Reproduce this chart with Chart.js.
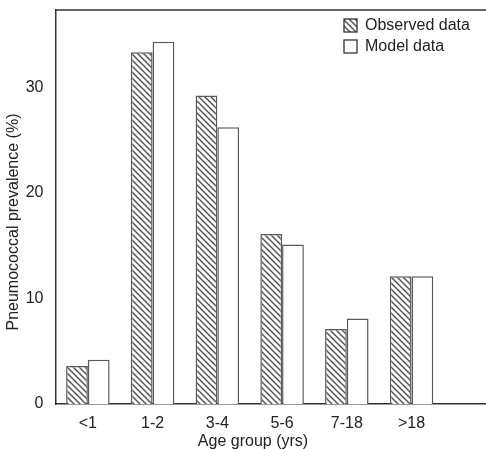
<!DOCTYPE html>
<html lang="en">
<head>
    <meta charset="UTF-8">
    <title>Pneumococcal prevalence by age group</title>
    <style>
        html, body {
            margin: 0;
            padding: 0;
            background: #ffffff;
            overflow: hidden;
        }
        #wrap {
            position: relative;
            width: 486px;
            height: 449px;
            overflow: hidden;
        }
        #wrap canvas {
            position: absolute;
            left: 0;
            top: 0;
        }
    </style>
</head>
<body>
    <div id="wrap">
        <canvas id="chart" width="486" height="455"></canvas>
    </div>
    <script src="https://cdn.jsdelivr.net/npm/chart.js"></script>
    <script>
        // data
        const ageGroups = ['<1', '1-2', '3-4', '5-6', '7-18', '>18'];
        const observedData = [3.6, 33.3, 29.2, 16.1, 7.1, 12.1];
        const modelData = [4.2, 34.3, 26.2, 15.1, 8.1, 12.1];
        const yTicks = [0, 10, 20, 30];
        const xTitle = 'Age group (yrs)';
        const yTitle = 'Pneumococcal prevalence (%)';

        const FONT = '"Liberation Sans", Arial, sans-serif';
        const INK = '#222222';
        const EDGE = '#5a5a5a';

        // diagonal hatching for the observed bars
        function makeHatch() {
            const s = 6;
            const c = document.createElement('canvas');
            c.width = s;
            c.height = s;
            const g = c.getContext('2d');
            g.fillStyle = '#ffffff';
            g.fillRect(0, 0, s, s);
            g.strokeStyle = '#555555';
            g.lineWidth = 1.5;
            g.beginPath();
            [-s, 0, s].forEach(k => {
                g.moveTo(-1, -1 + k);
                g.lineTo(s + 1, s + 1 + k);
            });
            g.stroke();
            return document.getElementById('chart').getContext('2d').createPattern(c, 'repeat');
        }
        const hatch = makeHatch();

        // top frame line, axis titles and legend (the original puts these off-centre)
        const framePlugin = {
            id: 'frame',
            afterDraw(chart) {
                const { ctx, chartArea } = chart;
                ctx.save();
                ctx.strokeStyle = '#333333';
                ctx.lineWidth = 1.5;
                ctx.beginPath();
                ctx.moveTo(chartArea.left, chartArea.top);
                ctx.lineTo(chart.width, chartArea.top);
                ctx.stroke();

                ctx.fillStyle = INK;
                ctx.font = '16px ' + FONT;
                ctx.textBaseline = 'middle';
                ctx.textAlign = 'center';
                ctx.fillText(xTitle, 253, 442);
                ctx.save();
                ctx.translate(14, 222);
                ctx.rotate(-Math.PI / 2);
                ctx.fillText(yTitle, 0, 0);
                ctx.restore();

                let y = 19;
                ctx.textAlign = 'left';
                chart.data.datasets.forEach(ds => {
                    ctx.fillStyle = ds.backgroundColor;
                    ctx.fillRect(344, y, 13, 13);
                    ctx.strokeStyle = '#333333';
                    ctx.lineWidth = 1.3;
                    ctx.strokeRect(344, y, 13, 13);
                    ctx.fillStyle = INK;
                    ctx.fillText(ds.label, 365, y + 7);
                    y += 21;
                });
                ctx.restore();
            }
        };

        new Chart(document.getElementById('chart'), {
            type: 'bar',
            data: {
                datasets: [{
                    label: 'Observed data',
                    data: observedData.map((v, i) => ({ x: i, y: v })),
                    backgroundColor: hatch,
                    borderColor: EDGE,
                    borderWidth: 1.5
                }, {
                    label: 'Model data',
                    data: modelData.map((v, i) => ({ x: i, y: v })),
                    backgroundColor: '#ffffff',
                    borderColor: EDGE,
                    borderWidth: 1.5
                }]
            },
            options: {
                responsive: false,
                animation: false,
                categoryPercentage: 0.672,
                barPercentage: 1.0,
                layout: {
                    padding: { top: 10, left: 4.5, right: 0, bottom: 3 }
                },
                plugins: {
                    legend: { display: false },
                    tooltip: { enabled: false }
                },
                scales: {
                    x: {
                        type: 'linear',
                        offset: false,
                        min: -0.5,
                        max: 6.15,
                        afterFit: s => {
                            s.height = 48;
                            s.paddingLeft = 0;
                            s.paddingRight = 0;
                        },
                        grid: { display: false, offset: false, drawTicks: false },
                        border: { display: true, color: '#333333', width: 1.5 },
                        ticks: {
                            stepSize: 1,
                            includeBounds: false,
                            autoSkip: false,
                            maxRotation: 0,
                            padding: 10,
                            color: INK,
                            font: { family: FONT, size: 16 },
                            callback: v => (Number.isInteger(v) && ageGroups[v] !== undefined) ? ageGroups[v] : ''
                        }
                    },
                    y: {
                        min: 0,
                        max: 37.3,
                        afterBuildTicks: scale => {
                            scale.ticks = yTicks.map(v => ({ value: v }));
                        },
                        afterFit: s => {
                            s.width = 51;
                            s.paddingTop = 0;
                            s.paddingBottom = 0;
                        },
                        grid: { display: false, drawTicks: false },
                        border: { display: true, color: '#333333', width: 1.5 },
                        ticks: {
                            padding: 12,
                            color: INK,
                            font: { family: FONT, size: 16 }
                        }
                    }
                }
            },
            plugins: [framePlugin]
        });
    </script>
</body>
</html>
